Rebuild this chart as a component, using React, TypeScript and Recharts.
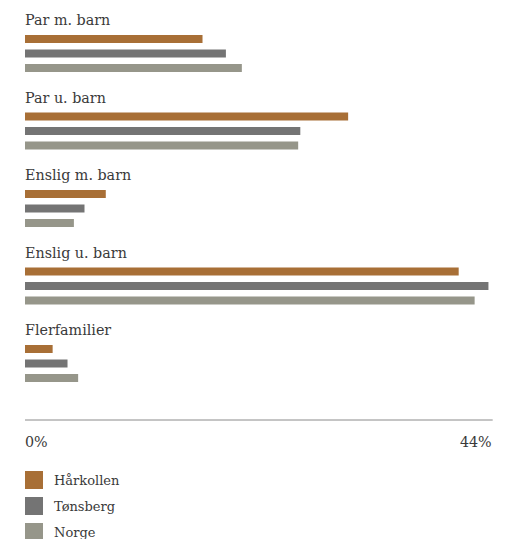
import React from 'react';
import { BarChart, Bar, XAxis, YAxis, Legend, LabelList } from 'recharts';

const categories = ['Par m. barn', 'Par u. barn', 'Enslig m. barn', 'Enslig u. barn', 'Flerfamilier'];
const harkollen = [16.7, 30.4, 7.6, 40.8, 2.6];
const tonsberg = [18.9, 25.9, 5.6, 43.6, 4.0];
const norge = [20.4, 25.7, 4.6, 42.3, 5.0];
const xTicks = [0, 44];

const seriesNames = ['Hårkollen', 'Tønsberg', 'Norge'];
const colors = ['#A86F36', '#747474', '#96968A'];

const data = categories.map((name, i) => ({
  name,
  h: harkollen[i],
  t: tonsberg[i],
  n: norge[i],
}));

const FONT = "'DejaVu Serif', 'Noto Serif', 'Liberation Serif', serif";

const CategoryLabel = (props: any) => {
  const vb = props.viewBox || {};
  const x = vb.x ?? props.x;
  const y = vb.y ?? props.y;
  return (
    <text x={x} y={y - 10} fontSize={14.3} fill="#3a3a3a" style={{ fontFamily: FONT }}>
      {props.value}
    </text>
  );
};

const XTick = (props: any) => {
  const { x, y, payload } = props;
  const isFirst = payload.value === xTicks[0];
  return (
    <text
      x={isFirst ? x : x - 1}
      y={y + 27}
      textAnchor={isFirst ? 'start' : 'end'}
      fontSize={14.3}
      fill="#3a3a3a"
      style={{ fontFamily: FONT }}
    >
      {payload.value}%
    </text>
  );
};

const renderLegend = () => (
  <div style={{ fontFamily: FONT }}>
    {seriesNames.map((s, i) => (
      <div key={s} style={{ display: 'flex', alignItems: 'center', height: 18, marginBottom: 8 }}>
        <div style={{ width: 18, height: 18, background: colors[i], marginRight: 11 }} />
        <span style={{ fontSize: 13, color: '#3a3a3a' }}>{s}</span>
      </div>
    ))}
  </div>
);

export default function App() {
  return (
    <div style={{ position: 'absolute', left: 0, top: 0, fontFamily: FONT }}>
      <BarChart
        width={517}
        height={539}
        data={data}
        layout="vertical"
        margin={{ top: 15, right: 24.3, bottom: 0, left: 25 }}
        barGap={6.5}
        barSize={8}
        style={{ fontFamily: FONT }}
      >
        <XAxis
          type="number"
          domain={[0, 44]}
          ticks={xTicks}
          tick={<XTick />}
          tickLine={false}
          tickSize={0}
          tickMargin={0}
          axisLine={{ stroke: '#8a8a8a', strokeWidth: 1 }}
          height={30}
          interval={0}
        />
        <YAxis type="category" dataKey="name" hide padding={{ top: 0, bottom: 17.5 }} />
        <Legend
          layout="horizontal"
          verticalAlign="bottom"
          align="left"
          content={renderLegend}
          wrapperStyle={{ top: 471, left: 25, bottom: 'auto', height: 89, width: 200 }}
        />
        <Bar dataKey="h" name={seriesNames[0]} fill={colors[0]} isAnimationActive={false}>
          <LabelList dataKey="name" content={<CategoryLabel />} />
        </Bar>
        <Bar dataKey="t" name={seriesNames[1]} fill={colors[1]} isAnimationActive={false} />
        <Bar dataKey="n" name={seriesNames[2]} fill={colors[2]} isAnimationActive={false} />
      </BarChart>
    </div>
  );
}
